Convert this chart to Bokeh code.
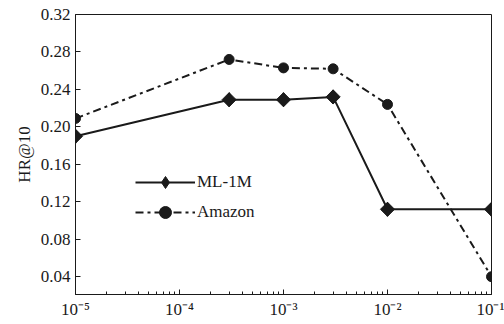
import math
from bokeh.plotting import figure
from bokeh.models import FixedTicker, PrintfTickFormatter, Range1d, Legend, LegendItem
from bokeh.embed import file_html
from bokeh.resources import INLINE

# data
x_vals = [1e-5, 3e-4, 1e-3, 3e-3, 1e-2, 1e-1]
ml1m = [0.190, 0.229, 0.229, 0.232, 0.112, 0.112]
amazon = [0.209, 0.272, 0.263, 0.262, 0.224, 0.040]
x_ticks = [1e-5, 1e-4, 1e-3, 1e-2, 1e-1]
x_tick_labels = ["10⁻⁵", "10⁻⁴", "10⁻³", "10⁻²", "10⁻¹"]
y_ticks = [0.04, 0.08, 0.12, 0.16, 0.20, 0.24, 0.28, 0.32]
minor_x = [m * d for d in [1e-5, 1e-4, 1e-3, 1e-2] for m in range(2, 10)]

FONT = "Liberation Serif"
INK = "#1a1a1a"

p = figure(width=504, height=324, x_axis_type="log", output_backend="svg",
           toolbar_location=None,
           x_range=Range1d(1e-5, 1e-1), y_range=Range1d(0.021, 0.32),
           min_border_left=75, min_border_right=13, min_border_top=14, min_border_bottom=30)

p.xgrid.visible = False
p.ygrid.visible = False
p.outline_line_color = INK
p.outline_line_width = 1
p.background_fill_color = "white"
p.border_fill_color = "white"

l1 = p.line(x_vals, ml1m, line_color=INK, line_width=2)
# diamond used for the legend (hidden beneath the rotated squares on the plot)
s1_leg = p.scatter(x_vals, ml1m, marker="diamond", size=14, fill_color=INK, line_color=INK)
s1 = p.scatter(x_vals, ml1m, marker="square", size=10, angle=math.pi / 4,
               fill_color=INK, line_color=INK)
l2 = p.line(x_vals, amazon, line_color=INK, line_width=2, line_dash="8 4 3 4")
s2 = p.scatter(x_vals, amazon, marker="circle", size=10, fill_color=INK, line_color=INK)

p.xaxis.ticker = FixedTicker(ticks=x_ticks, minor_ticks=minor_x)
p.xaxis.major_label_overrides = dict(zip(x_ticks, x_tick_labels))
p.yaxis.ticker = FixedTicker(ticks=y_ticks, minor_ticks=[])
p.yaxis.formatter = PrintfTickFormatter(format="%.2f")

for ax in (p.xaxis, p.yaxis):
    ax.axis_line_color = INK
    ax.axis_line_width = 1
    ax.major_tick_in = 5
    ax.major_tick_out = 0
    ax.minor_tick_in = 3
    ax.minor_tick_out = 0
    ax.major_tick_line_color = INK
    ax.minor_tick_line_color = INK
    ax.major_label_text_font = FONT
    ax.major_label_text_font_size = "17px"
    ax.major_label_text_color = INK
    ax.axis_label_text_font = FONT
    ax.axis_label_text_font_size = "17px"
    ax.axis_label_text_font_style = "normal"
    ax.axis_label_text_color = INK

p.yaxis.axis_label = "HR@10"
p.yaxis.major_label_standoff = 5
p.yaxis.axis_label_standoff = 4
p.xaxis.major_label_standoff = 5

legend = Legend(items=[LegendItem(label="ML-1M", renderers=[l1, s1_leg]),
                       LegendItem(label="Amazon", renderers=[l2, s2])],
                location=(60, 67))
legend.border_line_color = None
legend.background_fill_alpha = 0
legend.padding = 0
legend.margin = 0
legend.glyph_width = 60
legend.glyph_height = 30
legend.spacing = 0
legend.label_standoff = 2
legend.label_text_font = FONT
legend.label_text_font_size = "17px"
legend.label_text_color = INK
p.add_layout(legend, "center")

open("out.html", "w").write(file_html(p, INLINE))
